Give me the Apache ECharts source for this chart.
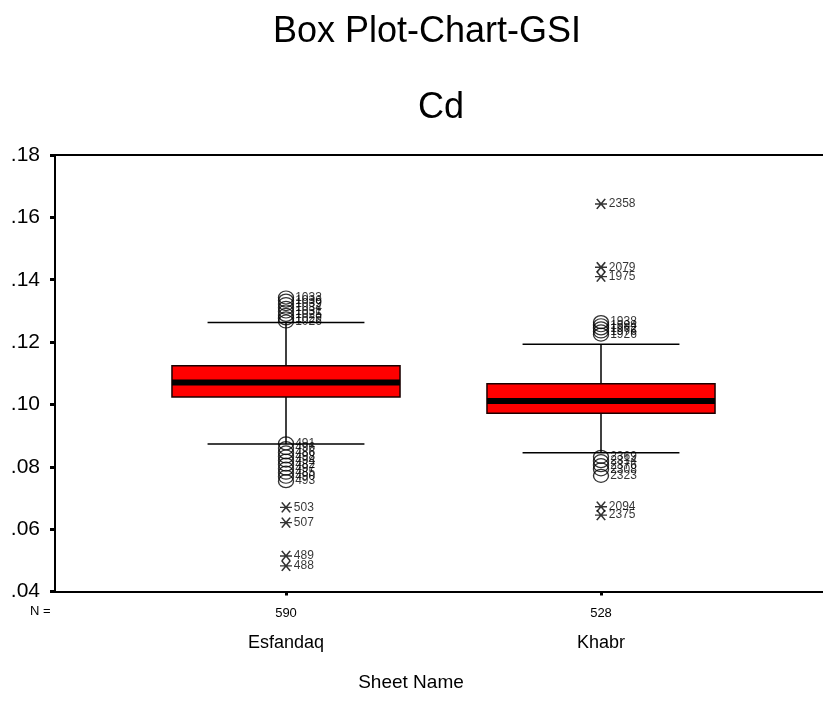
<!DOCTYPE html>
<html>
<head>
<meta charset="utf-8">
<script src="https://cdn.jsdelivr.net/npm/echarts@6/dist/echarts.min.js"></script>
<style>
  html, body { margin: 0; padding: 0; background: #fff; }
  #chart { width: 823px; height: 724px; }
</style>
</head>
<body>
<div id="chart"></div>
<script>
// Cd concentration by sheet: box summaries
const categories = ['Esfandaq', 'Khabr'];
const caseCounts = [590, 528];
const whiskerLow = [0.0873, 0.0845];
const quartile1 = [0.1024, 0.0972];
const medians = [0.1070, 0.1011];
const quartile3 = [0.1124, 0.1066];
const whiskerHigh = [0.1263, 0.1193];

// Outliers (circles) and extremes (asterisks): [value, case label]
const esfandaqOutliers = [
  [0.1343, '1033'], [0.1333, '1036'], [0.1322, '1039'], [0.1310, '1034'],
  [0.1298, '1031'], [0.1287, '1025'], [0.1276, '1029'], [0.1266, '1026'],
  [0.0875, '491'], [0.0860, '496'], [0.0846, '486'], [0.0833, '498'],
  [0.0820, '494'], [0.0807, '482'], [0.0794, '497'], [0.0781, '485'],
  [0.0768, '490'], [0.0754, '493']
];
const esfandaqExtremes = [[0.0670, '503'], [0.0621, '507'], [0.0514, '489'], [0.0482, '488']];
const khabrOutliers = [
  [0.1264, '1938'], [0.1254, '1994'], [0.1244, '1962'], [0.1234, '1976'], [0.1224, '1926'],
  [0.0832, '2369'], [0.0818, '2314'], [0.0805, '2376'], [0.0792, '2308'], [0.0771, '2323']
];
const khabrExtremes = [[0.1643, '2358'], [0.1440, '2079'], [0.1410, '1975'], [0.0672, '2094'], [0.0645, '2375']];

const yTicks = { min: 0.04, max: 0.18, interval: 0.02 };

const FONT = 'Liberation Sans, Arial, sans-serif';
const chart = echarts.init(document.getElementById('chart'), null, { renderer: 'canvas' });

const boxData = categories.map((c, i) => [i, whiskerLow[i], quartile1[i], medians[i], quartile3[i], whiskerHigh[i]]);
const toPoints = (list, idx) => list.map(d => ({ value: [idx, d[0]], name: d[1] }));

const asteriskPath = 'path://M0,5L10,5M1.5,0L8.5,10M8.5,0L1.5,10';

const pointLabel = {
  show: true, position: 'right', distance: 1,
  formatter: p => p.name, color: '#000', fontSize: 12, fontFamily: FONT
};

const headingText = (text, x, y, size) => ({
  type: 'text', x: x, y: y, silent: true,
  style: { text: text, fontSize: size, fontFamily: FONT, fill: '#000',
    textAlign: 'center', textVerticalAlign: 'middle' }
});

chart.setOption({
  animation: false,
  backgroundColor: '#fff',
  graphic: [
    headingText('Box Plot-Chart-GSI', 427, 32, 36),
    headingText('Cd', 441, 108, 36),
    headingText('Sheet Name', 411, 683, 19),
    { type: 'text', left: 30, top: 605,
      style: { text: 'N =', fontSize: 13, fontFamily: FONT, fill: '#000' } }
  ],
  grid: [
    { left: 55, right: -10, top: 155, bottom: 132.5 },
    { left: 128.5, width: 630, top: 155, bottom: 132.5 }
  ],
  xAxis: [
    { gridIndex: 0, type: 'value', min: 0, max: 1, position: 'bottom',
      axisLine: { show: true, lineStyle: { color: '#000', width: 2 } },
      axisTick: { show: false }, axisLabel: { show: false }, splitLine: { show: false } },
    { gridIndex: 0, type: 'value', min: 0, max: 1, position: 'top',
      axisLine: { show: true, lineStyle: { color: '#000', width: 2 } },
      axisTick: { show: false }, axisLabel: { show: false }, splitLine: { show: false } },
    { gridIndex: 1, type: 'category', data: categories, position: 'bottom',
      axisLine: { show: false },
      axisTick: { show: true, alignWithLabel: true, inside: false, length: 4, lineStyle: { color: '#000', width: 3 } },
      axisLabel: {
        margin: 12, color: '#000', fontFamily: FONT,
        formatter: (v, i) => '{n|' + caseCounts[i] + '}\n{c|' + v + '}',
        rich: {
          n: { fontSize: 13, lineHeight: 20, fontFamily: FONT, color: '#000' },
          c: { fontSize: 18, lineHeight: 40, fontFamily: FONT, color: '#000' }
        }
      },
      splitLine: { show: false } }
  ],
  yAxis: [
    { gridIndex: 0, type: 'value', min: yTicks.min, max: yTicks.max, interval: yTicks.interval,
      axisLine: { show: true, lineStyle: { color: '#000', width: 2 } },
      axisTick: { show: true, length: 5, lineStyle: { color: '#000', width: 3 } },
      axisLabel: { margin: 15, fontSize: 21, color: '#000', fontFamily: FONT,
        formatter: v => v.toFixed(2).replace(/^0/, '') },
      splitLine: { show: false } },
    { gridIndex: 1, type: 'value', min: yTicks.min, max: yTicks.max, show: false, splitLine: { show: false } }
  ],
  series: [
    {
      type: 'custom', xAxisIndex: 2, yAxisIndex: 1,
      data: boxData,
      encode: { x: 0, y: [1, 2, 3, 4, 5] },
      renderItem: (params, api) => {
        const i = api.value(0);
        const band = api.size([1, 0])[0];
        const lo = api.coord([i, api.value(1)]);
        const p1 = api.coord([i, api.value(2)]);
        const md = api.coord([i, api.value(3)]);
        const p3 = api.coord([i, api.value(4)]);
        const hi = api.coord([i, api.value(5)]);
        const x = lo[0];
        const boxHalf = band * 0.362;
        const capHalf = band * 0.249;
        const stroke = { stroke: '#000', lineWidth: 1.5 };
        return {
          type: 'group',
          children: [
            { type: 'line', shape: { x1: x, y1: hi[1], x2: x, y2: p3[1] }, style: stroke },
            { type: 'line', shape: { x1: x, y1: p1[1], x2: x, y2: lo[1] }, style: stroke },
            { type: 'line', shape: { x1: x - capHalf, y1: hi[1], x2: x + capHalf, y2: hi[1] }, style: stroke },
            { type: 'line', shape: { x1: x - capHalf, y1: lo[1], x2: x + capHalf, y2: lo[1] }, style: stroke },
            { type: 'rect', shape: { x: x - boxHalf, y: p3[1], width: boxHalf * 2, height: p1[1] - p3[1] },
              style: { fill: '#ff0000', stroke: '#1a0000', lineWidth: 1.5 } },
            { type: 'line', shape: { x1: x - boxHalf, y1: md[1], x2: x + boxHalf, y2: md[1] },
              style: { stroke: '#000', lineWidth: 6 } }
          ]
        };
      }
    },
    {
      type: 'scatter', xAxisIndex: 2, yAxisIndex: 1,
      data: toPoints(esfandaqOutliers, 0).concat(toPoints(khabrOutliers, 1)),
      symbol: 'circle', symbolSize: [15, 13],
      itemStyle: { color: 'rgba(0,0,0,0)', borderColor: '#000', borderWidth: 1.3 },
      label: pointLabel
    },
    {
      type: 'scatter', xAxisIndex: 2, yAxisIndex: 1,
      data: toPoints(esfandaqExtremes, 0).concat(toPoints(khabrExtremes, 1)),
      symbol: asteriskPath, symbolSize: [12, 10],
      itemStyle: { color: 'rgba(0,0,0,0)', borderColor: '#000', borderWidth: 1.5 },
      label: pointLabel
    }
  ]
});
</script>
</body>
</html>
